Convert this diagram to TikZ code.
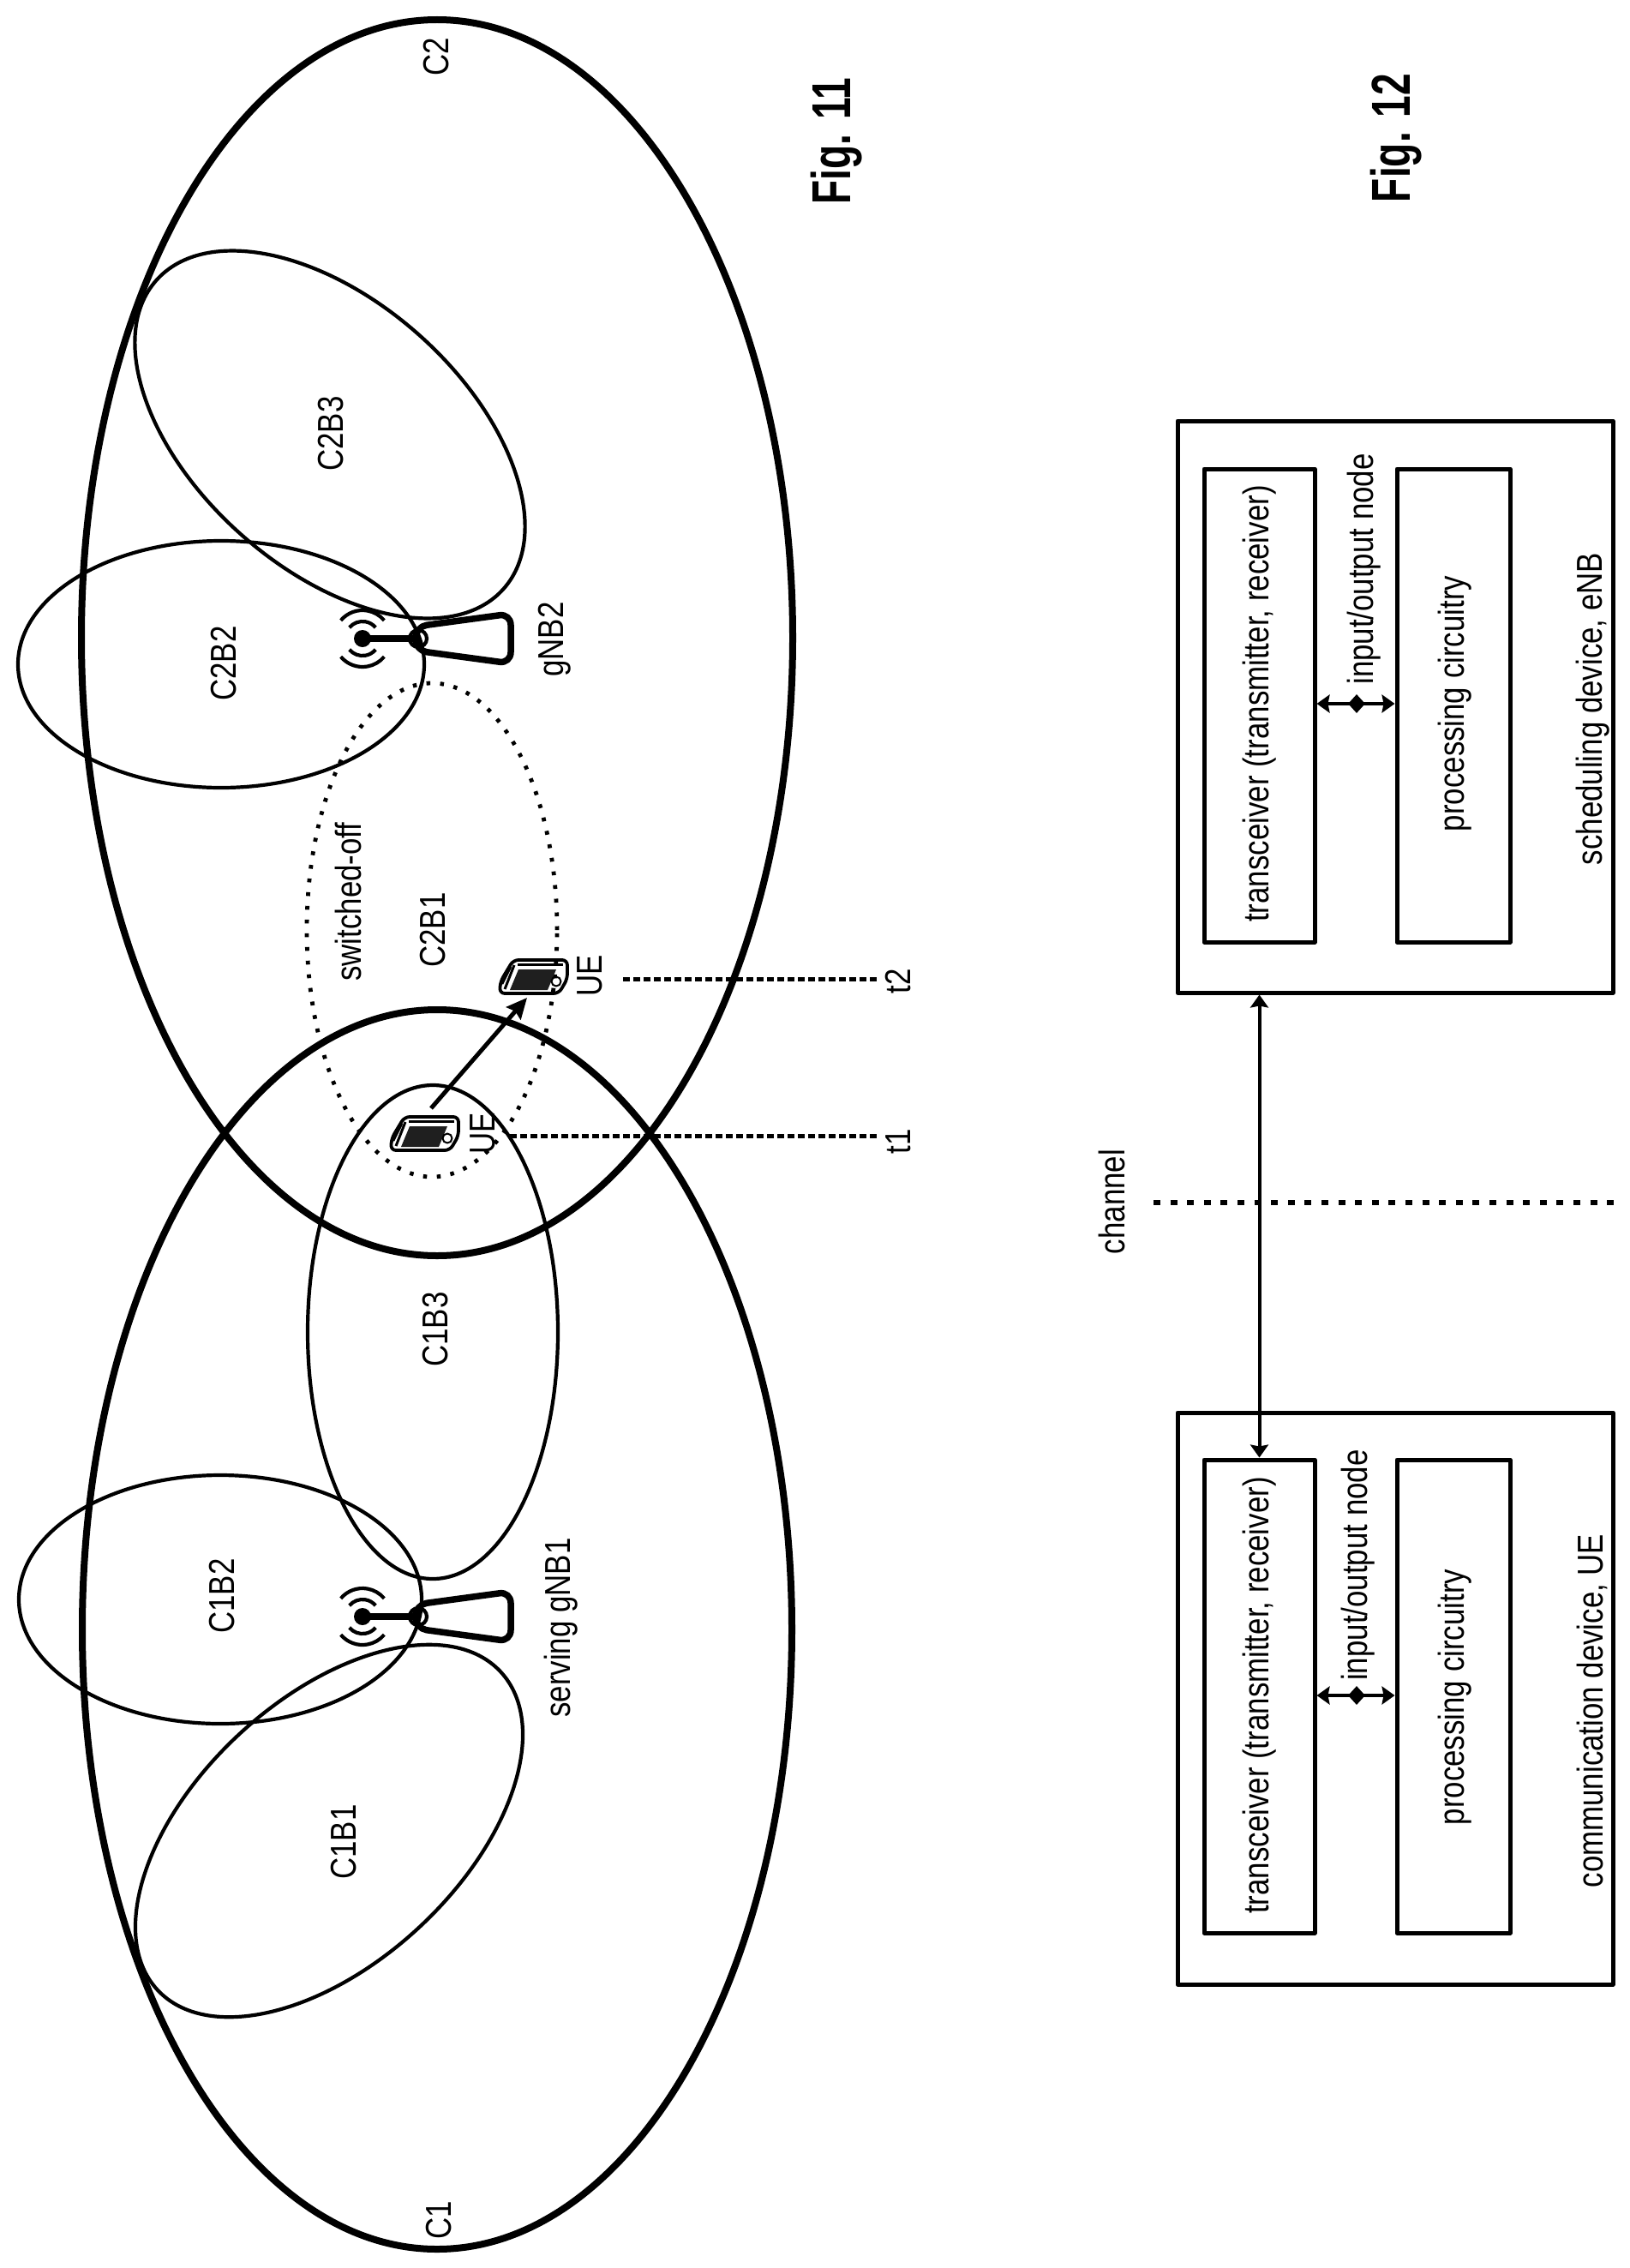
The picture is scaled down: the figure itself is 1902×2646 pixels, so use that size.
\documentclass[tikz,border=0pt]{standalone}
\usepackage{fontspec}
\setmainfont{Liberation Sans}
\usetikzlibrary{arrows.meta}
\tikzset{
  cellring/.style={line width=8pt},
  beam/.style={line width=4.2pt},
  beamoff/.style={line width=4.8pt,dash pattern=on 4.5pt off 11.5pt},
  lbl/.style={rotate=90,anchor=base,xscale=.83,inner sep=0pt,font=\fontsize{42}{42}\selectfont},
  figlbl/.style={rotate=90,anchor=base,xscale=.72,inner sep=0pt,font=\fontsize{64}{64}\selectfont\bfseries},
  outerbox/.style={draw,line width=5pt,inner sep=0pt},
  tick/.style={line width=5pt,dash pattern=on 8pt off 4pt},
  chandot/.style={line width=5.5pt,dash pattern=on 8pt off 11.6pt},
  link/.style={line width=4pt,{Stealth[length=15pt,width=21pt,inset=2pt]}-{Stealth[length=15pt,width=21pt,inset=2pt]}},
  hub/.style={diamond,fill=black,inner sep=0pt,minimum width=20pt,minimum height=22pt},
  mast/.style={line width=7.5pt},
  wave/.style={line width=4.2pt},
  mover/.style={line width=5pt,-{Stealth[length=24pt,width=22pt,inset=3pt]}}
}
\usetikzlibrary{shapes.geometric}
\begin{document}
\begin{tikzpicture}[x=1pt,y=-1pt,line join=round]
\useasboundingbox (0,0) rectangle (1902,2646);
\fill[white] (0,0) rectangle (1902,2646);

% cells
\draw[cellring] (510,1901) ellipse [x radius=414pt,y radius=723pt];
\draw[cellring] (510,744) ellipse [x radius=415pt,y radius=721pt];

% beams
\draw[beam] (257,1866) ellipse [x radius=235pt,y radius=145pt];
\draw[beam] (384,2136) ellipse [x radius=273pt,y radius=154pt,rotate=42.8];
\draw[beam] (505,1554) ellipse [x radius=146pt,y radius=288pt];
\draw[beam] (258,775) ellipse [x radius=237pt,y radius=144pt];
\draw[beam] (385,507) ellipse [x radius=271pt,y radius=156pt,rotate=-41.6];
\draw[beamoff] (504,1085) ellipse [x radius=146pt,y radius=288pt];

% base stations
\foreach \cx/\cy in {423/1886,423/745}{
  \fill (\cx,\cy) circle [radius=10pt];
  \draw[mast] (\cx,\cy) -- ++(62,0);
  \draw[mast,rounded corners=13pt] (\cx+62,\cy-14) -- (\cx+173,\cy-29) -- (\cx+173,\cy+29) -- (\cx+62,\cy+14) -- cycle;
  \draw[wave] (\cx+65,\cy) circle [radius=10pt];
  \foreach \rr in {20,33}{
    \draw[wave] ([shift={(140:\rr pt)}]\cx,\cy) arc [start angle=140,end angle=40,radius=\rr pt];
    \draw[wave] ([shift={(-140:\rr pt)}]\cx,\cy) arc [start angle=-140,end angle=-40,radius=\rr pt];
  }
}

% user equipment
\foreach \ox/\oy in {455/1301,582/1118}{
\begin{scope}[shift={(\ox,\oy)}]
  \draw[line width=3.8pt,rounded corners=6pt] (17,2) -- (80,2) -- (80,24) -- (70,41) -- (1,41) -- (2,27) -- cycle;
  \draw[line width=3pt] (22,7) -- (75,7);
  \draw[line width=3pt] (7,36) -- (18,8);
  \draw[line width=2.5pt] (14,10) -- (4,30);
  \fill[black!88] (23,13) -- (67,13) -- (57,37) -- (13,37) -- cycle;
  \draw[line width=2pt] (67,27) circle [radius=5.5pt];
\end{scope}
}
\coordinate (ueA) at (503,1293);
\coordinate (ueB) at (615,1164);
\draw[mover] (ueA) -- (ueB);

% time markers
\node[lbl] (t1) at (1062,1332) {t1};
\node[lbl] (t2) at (1062,1145) {t2};
\coordinate (tAs) at (595,1325);
\coordinate (tAe) at (1023,1325);
\coordinate (tBs) at (727,1142);
\coordinate (tBe) at (1023,1142);
\draw[tick] (tAs) -- (tAe);
\draw[tick] (tBs) -- (tBe);

% labels figure 11
\node[lbl] (lC1) at (526,2590) {C1};
\node[lbl] (lC2) at (523,66) {C2};
\node[lbl] (lC1B1) at (415,2149) {C1B1};
\node[lbl] (lC1B2) at (273,1862) {C1B2};
\node[lbl] (lC1B3) at (522,1551) {C1B3};
\node[lbl] (lC2B1) at (519,1085) {C2B1};
\node[lbl] (lC2B2) at (275,774) {C2B2};
\node[lbl] (lC2B3) at (400,506) {C2B3};
\node[lbl] (lgA) at (665,1899) {serving gNB1};
\node[lbl] (lgB) at (657,746) {gNB2};
\node[lbl] (lsw) at (421,1052) {switched-off};
\node[lbl] (lueA) at (577,1322) {UE};
\node[lbl] (lueB) at (702,1138) {UE};
\node[figlbl] (figA) at (992,165) {Fig. 11};
\node[figlbl] (figB) at (1645,161) {Fig. 12};

% figure 12 boxes
\node[outerbox,minimum width=508pt,minimum height=667pt] (ueO) at (1628,1981.5) {};
\node[outerbox,minimum width=129pt,minimum height=552pt] (ueT) at (1469.5,1979) {};
\node[outerbox,minimum width=132pt,minimum height=552pt] (ueP) at (1696,1979) {};
\node[outerbox,minimum width=508pt,minimum height=667pt] (enO) at (1628,824.5) {};
\node[outerbox,minimum width=129pt,minimum height=552pt] (enT) at (1469.5,823) {};
\node[outerbox,minimum width=132pt,minimum height=552pt] (enP) at (1696,823) {};

\node[hub] (ueH) at (1583,1978) {};
\node[hub] (enH) at (1583,821) {};
\draw[link] (ueT.east |- ueH) -- (ueP.west |- ueH);
\draw[link] (enT.east |- enH) -- (enP.west |- enH);
\draw[link] (enO.south -| enT) -- (ueT.north);

\coordinate (chS) at (1346,1403);
\coordinate (chE) at (1885,1403);
\draw[chandot] (chS) -- (chE);
\node[lbl] (lch) at (1312,1402) {channel};

\node[lbl] (ueTt) at (1480,1978) {transceiver (transmitter, receiver)};
\node[lbl] (enTt) at (1480,821) {transceiver (transmitter, receiver)};
\node[lbl] (uePt) at (1708,1980) {processing circuitry};
\node[lbl] (enPt) at (1708,821) {processing circuitry};
\node[lbl] (ueIO) at (1595,1826) {input/output node};
\node[lbl] (enIO) at (1602,664) {input/output node};
\node[lbl] (ueN) at (1870,1996) {communication device, UE};
\node[lbl] (enN) at (1869,827) {scheduling device, eNB};
\end{tikzpicture}
\end{document}
